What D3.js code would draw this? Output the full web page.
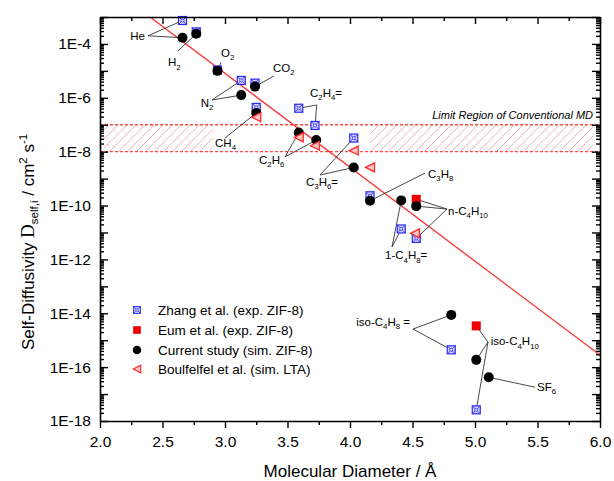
<!DOCTYPE html>
<html><head><meta charset="utf-8">
<script src="https://cdn.jsdelivr.net/npm/d3@7"></script>
<style>
body{margin:0;background:#fff;}
svg{display:block;font-family:"Liberation Sans",Arial,sans-serif;}
</style></head>
<body><svg id="c" width="614" height="481"></svg>
<script>
// ---------- data ----------
const xDomain = [2.0, 6.0];
const yDomain = [1e-18, 1e-3];
const xTickLabels = ["2.0","2.5","3.0","3.5","4.0","4.5","5.0","5.5","6.0"];
const yTickExponents = [-4,-6,-8,-10,-12,-14,-16,-18];

const zhangNames = ["He","H2","O2","N2","CO2","CH4","C2H4","C2H6","C3H6","C3H8","1-C4H8","n-C4H10","iso-C4H8","iso-C4H10"];
const zhangDiam  = [2.66, 2.77, 2.94, 3.13, 3.24, 3.25, 3.59, 3.72, 4.03, 4.16, 4.41, 4.53, 4.81, 5.01];
const zhangD     = [7.4e-4, 2.8e-4, 1.07e-5, 4.4e-6, 3.5e-6, 4.4e-7, 4.1e-7, 9.4e-8, 3.2e-8, 2.3e-10, 1.35e-11, 6.0e-12, 4.4e-16, 2.6e-18];

const eumNames = ["n-C4H10","iso-C4H10"];
const eumDiam  = [4.53, 5.01];
const eumD     = [1.7e-10, 3.4e-15];

const currentNames = ["He","H2","O2","N2","CO2","CH4","C2H4","C2H6","C3H6","C3H8","1-C4H8","n-C4H10","iso-C4H8","iso-C4H10","SF6"];
const currentDiam  = [2.66, 2.77, 2.94, 3.13, 3.24, 3.25, 3.59, 3.73, 4.03, 4.16, 4.41, 4.53, 4.81, 5.01, 5.11];
const currentD     = [1.7e-4, 2.4e-4, 1.0e-5, 1.26e-6, 2.6e-6, 2.75e-7, 5.1e-8, 2.7e-8, 2.6e-9, 1.5e-10, 1.55e-10, 9.5e-11, 8.7e-15, 1.86e-16, 4.2e-17];

const boulNames = ["CH4","C2H4","C2H6","C3H6","C3H8","n-C4H10"];
const boulDiam  = [3.25, 3.59, 3.72, 4.03, 4.16, 4.52];
const boulD     = [1.9e-7, 3.4e-8, 1.66e-8, 1.1e-8, 2.6e-9, 9.3e-12];

const seriesNames = ["Zhang et al. (exp. ZIF-8)","Eum et al. (exp. ZIF-8)","Current study (sim. ZIF-8)","Boulfelfel et al. (sim. LTA)"];

// fitted correlation line (end points)
const fitDiam = [2.4, 6.0];
const fitD    = [1e-3, 2.8e-16];

// limit region of conventional MD
const limitD = [1e-7, 1e-8];
const hatchRanges = [[2.03, 2.9], [4.16, 5.944]];
const limitText = "Limit Region of Conventional MD";
const limitTextPos = [5.944, 1.6e-7];

// annotations: label, text anchor point, anchor, vertex, targets [series, name]
const annotations = [
  {t:"He",        tx:2.36,  ty:1.35e-4, a:"end",   vx:2.384, vy:2.0e-4,  to:[["z","He"],["c","He"]]},
  {t:"H_2",       tx:2.544, ty:1.5e-5,  a:"start", vx:2.624, vy:5.5e-5,  to:[["c","H2"]]},
  {t:"O_2",       tx:2.968, ty:3.3e-5,  a:"start", vx:2.968, vy:2.1e-5,  to:[["c","O2"]]},
  {t:"CO_2",      tx:3.384, ty:9.3e-6,  a:"start", vx:3.392, vy:6.5e-6,  to:[["c","CO2"]]},
  {t:"N_2",       tx:2.806, ty:4.6e-7,  a:"start", vx:2.896, vy:8.3e-7,  to:[["z","N2"],["c","N2"]]},
  {t:"CH_4",      tx:2.92,  ty:1.55e-8, a:"start", vx:3.0,   vy:3.2e-8,  to:[["c","CH4"]]},
  {t:"C_2H_4=",   tx:3.68,  ty:1.1e-6,  a:"start", vx:3.734, vy:5.4e-7,  to:[["z","C2H4"],["z","C2H6"]]},
  {t:"C_2H_6",    tx:3.272, ty:3.5e-9,  a:"start", vx:3.48,  vy:6.4e-9,  to:[["c","C2H4"],["c","C2H6"]]},
  {t:"C_3H_6=",   tx:3.648, ty:5.3e-10, a:"start", vx:3.76,  vy:1.36e-9, to:[["z","C3H6"],["c","C3H6"]]},
  {t:"C_3H_8",    tx:4.624, ty:1.05e-9, a:"start", vx:4.6,   vy:1.6e-9,  to:[["c","C3H8"]]},
  {t:"n-C_4H_10", tx:4.784, ty:4.5e-11, a:"start", vx:4.776, vy:7.4e-11, to:[["e","n-C4H10"],["c","n-C4H10"],["z","n-C4H10"]]},
  {t:"1-C_4H_8=", tx:4.28,  ty:1.0e-12, a:"start", vx:4.336, vy:2.9e-12, to:[["c","1-C4H8"],["z","1-C4H8"]]},
  {t:"iso-C_4H_8 =", tx:4.48, ty:3.4e-15, a:"end", vx:4.504, vy:2.6e-15, to:[["c","iso-C4H8"],["z","iso-C4H8"]]},
  {t:"iso-C_4H_10", tx:5.125, ty:6.6e-16, a:"start", vx:5.104, vy:8.5e-16, to:[["e","iso-C4H10"],["c","iso-C4H10"],["z","iso-C4H10"]]},
  {t:"SF_6",      tx:5.496, ty:1.33e-17, a:"start", vx:5.48,  vy:1.8e-17, to:[["c","SF6"]]}
];

// ---------- drawing ----------
const svg = d3.select("#c");
const L = 100, R = 600, T = 17, B = 421;
const x = d3.scaleLinear().domain(xDomain).range([L, R]);
const y = d3.scaleLog().domain(yDomain).range([B, T]);

const defs = svg.append("defs");
defs.append("clipPath").attr("id","clip").append("rect")
  .attr("x",L).attr("y",T).attr("width",R-L).attr("height",B-T);
const pat = defs.append("pattern").attr("id","hatch").attr("patternUnits","userSpaceOnUse")
  .attr("width",9).attr("height",9);
pat.append("path").attr("d","M-1,1 L1,-1 M0,9 L9,0 M8,10 L10,8")
  .attr("stroke","#f7b3b3").attr("stroke-width",1);

const plot = svg.append("g").attr("clip-path","url(#clip)");

// hatched region
hatchRanges.forEach(r => {
  plot.append("rect").attr("x", x(r[0])).attr("width", x(r[1]) - x(r[0]))
    .attr("y", y(limitD[0])).attr("height", y(limitD[1]) - y(limitD[0]))
    .attr("fill","url(#hatch)");
});
limitD.forEach(v => {
  plot.append("line").attr("x1",L).attr("x2",R).attr("y1",y(v)).attr("y2",y(v))
    .attr("stroke","#ff4a4a").attr("stroke-width",1.3).attr("stroke-dasharray","3,2");
});
svg.append("text").attr("x", x(limitTextPos[0])).attr("y", y(limitTextPos[1]))
  .attr("text-anchor","end").attr("font-style","italic").attr("font-size",11)
  .text(limitText);

// fit line
plot.append("line").attr("x1",x(fitDiam[0])).attr("y1",y(fitD[0]))
  .attr("x2",x(fitDiam[1])).attr("y2",y(fitD[1]))
  .attr("stroke","#ff3030").attr("stroke-width",1.3);

// lookup
const lookup = {
  z: n => [zhangDiam[zhangNames.indexOf(n)], zhangD[zhangNames.indexOf(n)]],
  e: n => [eumDiam[eumNames.indexOf(n)], eumD[eumNames.indexOf(n)]],
  c: n => [currentDiam[currentNames.indexOf(n)], currentD[currentNames.indexOf(n)]],
  b: n => [boulDiam[boulNames.indexOf(n)], boulD[boulNames.indexOf(n)]]
};

// leader lines
const lead = svg.append("g").attr("stroke","#333").attr("stroke-width",0.9).attr("fill","none");
annotations.forEach(a => {
  a.to.forEach(([s, n]) => {
    const p = lookup[s](n);
    lead.append("line").attr("x1",x(a.vx)).attr("y1",y(a.vy)).attr("x2",x(p[0])).attr("y2",y(p[1]));
  });
});

// label text with subscripts
function richText(sel, str, fs) {
  const parts = str.split(/(_\d+)/).filter(s => s.length);
  let sub = false;
  parts.forEach(p => {
    if (p[0] === "_") {
      sel.append("tspan").attr("font-size", fs*0.68).attr("dy", sub ? 0 : fs*0.3).text(p.slice(1));
      sub = true;
    } else {
      sel.append("tspan").attr("dy", sub ? -fs*0.3 : 0).text(p);
      sub = false;
    }
  });
}
annotations.forEach(a => {
  const t = svg.append("text").attr("x", x(a.tx)).attr("y", y(a.ty))
    .attr("text-anchor", a.a).attr("font-size", 11.5);
  richText(t, a.t, 11.5);
});

// markers
function zhangMarker(g) {
  g.append("rect").attr("x",-4).attr("y",-4).attr("width",8).attr("height",8)
    .attr("fill","#d4d6ff").attr("stroke","#2a2af0").attr("stroke-width",1.2);
  g.append("path").attr("d","M-4,-4L4,4M-4,4L4,-4").attr("stroke","#2a2af0").attr("stroke-width",0.8);
  g.append("circle").attr("r",1.6).attr("fill","#d4d6ff").attr("stroke","#2a2af0").attr("stroke-width",0.7);
}
function eumMarker(g) {
  g.append("rect").attr("x",-4.5).attr("y",-4.5).attr("width",9).attr("height",9).attr("fill","#f00000");
}
function currentMarker(g) {
  g.append("circle").attr("r",5).attr("fill","#000");
}
function boulMarker(g) {
  g.append("path").attr("d","M-4.5,0L4.5,-4.5L4.5,4.5Z").attr("fill","#ffc4c4")
    .attr("stroke","#ff2a2a").attr("stroke-width",1.3).attr("stroke-linejoin","miter");
}
function drawSeries(diam, vals, fn) {
  diam.forEach((d, i) => {
    const g = svg.append("g").attr("transform", `translate(${x(d)},${y(vals[i])})`);
    fn(g);
  });
}
drawSeries(zhangDiam, zhangD, zhangMarker);
drawSeries(eumDiam, eumD, eumMarker);
drawSeries(currentDiam, currentD, currentMarker);
drawSeries(boulDiam, boulD, boulMarker);

// axes
const majorY = d3.range(-18, -2).map(k => Math.pow(10, k));
const minorY = [];
d3.range(-18, -3).forEach(k => { for (let m = 2; m <= 9; m++) minorY.push(m * Math.pow(10, k)); });
const fmtY = v => { const k = Math.round(Math.log10(v)); return yTickExponents.includes(k) ? "1E" + k : ""; };
const majorX = xTickLabels.map(Number);
const minorX = d3.range(2.25, 6.0, 0.5);

function styleAxis(g, fs) {
  g.selectAll(".domain").attr("stroke","#000").attr("stroke-width",1.6);
  g.selectAll(".tick line").attr("stroke","#000").attr("stroke-width",1.4);
  g.selectAll("text").attr("font-size", fs).attr("fill","#000")
    .attr("font-family","'Liberation Sans',Arial,sans-serif");
}
// left
svg.append("g").attr("transform",`translate(${L},0)`)
  .call(d3.axisLeft(y).tickValues(minorY).tickSize(-4).tickFormat("").tickSizeOuter(0))
  .call(g => styleAxis(g, 15.5)).call(g => g.select(".domain").remove());
svg.append("g").attr("transform",`translate(${L},0)`)
  .call(d3.axisLeft(y).tickValues(majorY).tickSizeInner(-8).tickSizeOuter(0).tickPadding(9).tickFormat(fmtY))
  .call(g => styleAxis(g, 15.5));
// right
svg.append("g").attr("transform",`translate(${R},0)`)
  .call(d3.axisRight(y).tickValues(minorY).tickSize(-4).tickFormat("").tickSizeOuter(0))
  .call(g => styleAxis(g, 15.5)).call(g => g.select(".domain").remove());
svg.append("g").attr("transform",`translate(${R},0)`)
  .call(d3.axisRight(y).tickValues(majorY).tickSizeInner(-8).tickSizeOuter(0).tickFormat(""))
  .call(g => styleAxis(g, 15.5));
// bottom
svg.append("g").attr("transform",`translate(0,${B})`)
  .call(d3.axisBottom(x).tickValues(minorX).tickSize(4).tickFormat("").tickSizeOuter(0))
  .call(g => styleAxis(g, 15.5)).call(g => g.select(".domain").remove());
svg.append("g").attr("transform",`translate(0,${B})`)
  .call(d3.axisBottom(x).tickValues(majorX).tickSizeInner(7).tickSizeOuter(0).tickPadding(8)
    .tickFormat((v, i) => xTickLabels[i]))
  .call(g => styleAxis(g, 15.5));
// top
svg.append("g").attr("transform",`translate(0,${T})`)
  .call(d3.axisTop(x).tickValues(minorX).tickSize(-4).tickFormat("").tickSizeOuter(0))
  .call(g => styleAxis(g, 15.5)).call(g => g.select(".domain").remove());
svg.append("g").attr("transform",`translate(0,${T})`)
  .call(d3.axisTop(x).tickValues(majorX).tickSizeInner(-7).tickSizeOuter(0).tickFormat(""))
  .call(g => styleAxis(g, 15.5));

// axis titles
svg.append("text").attr("x", (L + R) / 2).attr("y", 477).attr("text-anchor","middle")
  .attr("font-size",17).text("Molecular Diameter / Å");
const yt = svg.append("text").attr("transform","translate(34,350) rotate(-90)")
  .attr("text-anchor","start").attr("font-size",17);
yt.append("tspan").text("Self-Diffusivity ");
yt.append("tspan").attr("font-family","'Liberation Serif','Times New Roman',serif").attr("font-size",19).text("D");
yt.append("tspan").attr("font-size",11.5).attr("dy",4).text("self,i");
yt.append("tspan").attr("dy",-4).text(" / cm");
yt.append("tspan").attr("font-size",11.5).attr("dy",-7).text("2");
yt.append("tspan").attr("dy",7).text(" s");
yt.append("tspan").attr("font-size",11.5).attr("dy",-7).text("-1");

// legend
const legFns = [zhangMarker, eumMarker, currentMarker, boulMarker];
const legY = [310, 330, 350, 369];
seriesNames.forEach((n, i) => {
  const g = svg.append("g").attr("transform", `translate(137,${legY[i]})`);
  const m = g.append("g").attr("transform","scale(0.85)");
  legFns[i](m);
  g.append("text").attr("x", 21).attr("y", 5).attr("font-size", 13.5).text(n);
});
</script></body></html>
